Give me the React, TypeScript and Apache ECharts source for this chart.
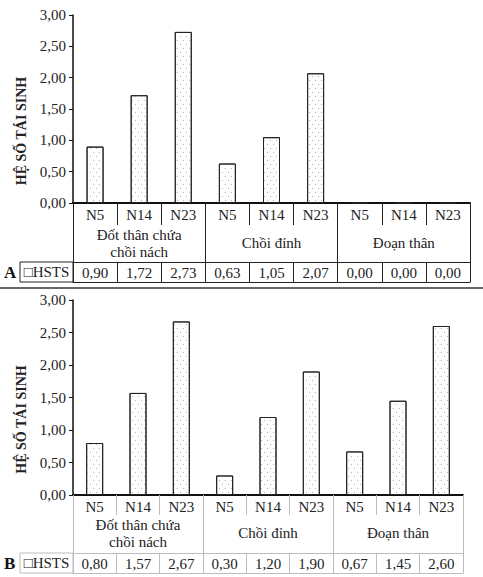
import React, { useEffect, useRef } from 'react'
import * as echarts from 'echarts'

/*==================================================================
    DATA
==================================================================*/
const categories = ['N5', 'N14', 'N23', 'N5', 'N14', 'N23', 'N5', 'N14', 'N23']
const groups = ['Đốt thân chứa\nchồi nách', 'Chồi đỉnh', 'Đoạn thân']
const valuesA = [0.9, 1.72, 2.73, 0.63, 1.05, 2.07, 0, 0, 0]
const valuesB = [0.8, 1.57, 2.67, 0.3, 1.2, 1.9, 0.67, 1.45, 2.6]
const yTitle = 'HỆ SỐ TÁI SINH'
const seriesName = 'HSTS'

/*==================================================================
    CONSTANTS
==================================================================*/
const FONT = 'Liberation Serif'
const TEXT = '#222'
const fmt = (v: number) => v.toFixed(2).replace('.', ',')

const decal = {
  symbol: 'rect',
  symbolSize: 1,
  color: '#b4b4b4',
  dashArrayX: [[1, 5], [0, 3, 1, 2]],
  dashArrayY: [1, 3],
  rotation: 0,
}

/*==================================================================
    AXIS BUILDERS
==================================================================*/
type Rows = { n: number; g: number; v: number }

function tableAxes(gridIndex: number, values: number[], rows: Rows, lineColor: string) {
  const label = { interval: 0, fontFamily: FONT, fontSize: 15, color: TEXT }
  return [
    {
      gridIndex, type: 'category', data: categories, position: 'bottom',
      axisLine: { show: true, onZero: false, lineStyle: { color: '#111', width: 2 } },
      axisTick: { show: true, interval: 0, length: rows.n, lineStyle: { color: lineColor } },
      axisLabel: { ...label, margin: 4 },
    },
    {
      gridIndex, type: 'category', position: 'bottom', offset: rows.n,
      data: groups.map((g) => ({ value: g, textStyle: { lineHeight: g.includes('\n') ? 17 : 34 } })),
      axisLine: { show: false, onZero: false },
      axisTick: { show: true, interval: 0, length: rows.g, lineStyle: { color: lineColor } },
      axisLabel: { ...label, margin: 1 },
    },
    {
      gridIndex, type: 'category', position: 'bottom', offset: rows.n + rows.g,
      data: values.map(fmt),
      axisLine: { show: true, onZero: false, lineStyle: { color: lineColor, width: 1 } },
      axisTick: { show: true, interval: 0, length: rows.v, lineStyle: { color: lineColor } },
      axisLabel: { ...label, margin: 3 },
    },
    {
      gridIndex, type: 'category', position: 'bottom', offset: rows.n + rows.g + rows.v,
      data: categories,
      axisLine: { show: true, onZero: false, lineStyle: { color: lineColor, width: 1 } },
      axisTick: { show: false },
      axisLabel: { show: false },
    },
  ]
}

function valueAxis(gridIndex: number) {
  return {
    gridIndex, type: 'value', min: 0, max: 3, interval: 0.5,
    name: yTitle, nameLocation: 'middle', nameGap: 35, nameRotate: 90,
    nameTextStyle: { fontFamily: FONT, fontSize: 14, fontWeight: 'bold', color: TEXT, padding: [0, 44, 0, 0] },
    axisLine: { show: true, lineStyle: { color: '#111', width: 1.5 } },
    axisTick: { show: true, length: 4, lineStyle: { color: '#111' } },
    splitLine: { show: false },
    axisLabel: { fontFamily: FONT, fontSize: 15, color: TEXT, margin: 7, formatter: (v: number) => fmt(v) },
  }
}

function barSeries(xAxisIndex: number, yAxisIndex: number, values: number[]) {
  return {
    name: seriesName, type: 'bar', xAxisIndex, yAxisIndex, data: values, barWidth: 17,
    itemStyle: { color: '#fefefe', borderColor: '#222', borderWidth: 1, decal },
  }
}

function hstsCell(y: number, letter: string, lineColor: string) {
  return [
    { type: 'text', x: 4, y: y + 10, style: { text: letter, fontFamily: FONT, fontSize: 17, fontWeight: 'bold', fill: '#111', verticalAlign: 'middle' } },
    { type: 'rect', shape: { x: 20, y, width: 53, height: 20 }, style: { fill: 'none', stroke: lineColor, lineWidth: 1 } },
    { type: 'text', x: 46.5, y: y + 10, style: { text: '□' + seriesName, fontFamily: FONT, fontSize: 15, fill: TEXT, align: 'center', verticalAlign: 'middle' } },
  ]
}

/*==================================================================
    APP
==================================================================*/
export default function App() {
  const ref = useRef<HTMLDivElement>(null)

  useEffect(() => {
    document.body.style.margin = '0'
    if (!ref.current) return
    const chart = echarts.init(ref.current, undefined, { renderer: 'svg' })
    chart.setOption({
      animation: false,
      backgroundColor: '#fff',
      textStyle: { fontFamily: FONT },
      grid: [
        { left: 73, top: 15, width: 397, height: 188 },
        { left: 73, top: 300, width: 390, height: 195 },
      ],
      xAxis: [
        ...tableAxes(0, valuesA, { n: 22, g: 37, v: 20 }, '#222'),
        ...tableAxes(1, valuesB, { n: 20, g: 38, v: 20 }, '#bdbdbd'),
      ],
      yAxis: [valueAxis(0), valueAxis(1)],
      series: [barSeries(0, 0, valuesA), barSeries(4, 1, valuesB)],
      graphic: [
        ...hstsCell(262, 'A', '#222'),
        ...hstsCell(553, 'B', '#bdbdbd'),
        { type: 'line', shape: { x1: 0, y1: 288, x2: 483, y2: 288 }, style: { stroke: '#333', lineWidth: 1.5 } },
      ],
    })
    return () => chart.dispose()
  }, [])

  return <div ref={ref} style={{ width: 483, height: 577 }} />
}
